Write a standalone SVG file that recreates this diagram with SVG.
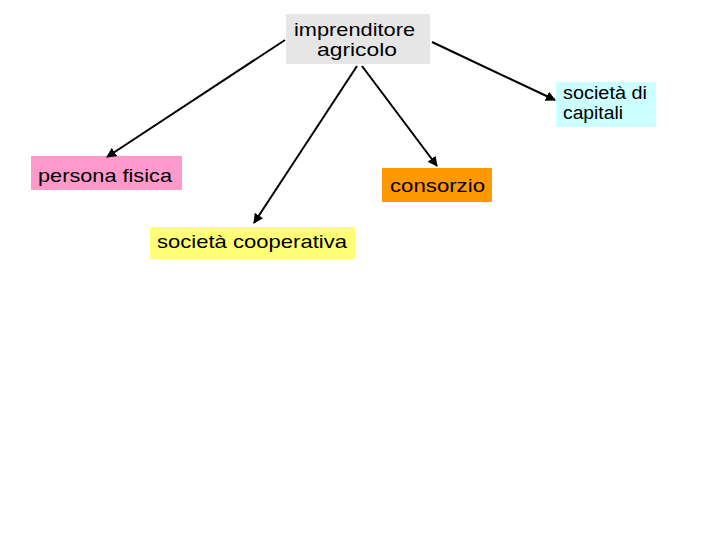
<svg xmlns="http://www.w3.org/2000/svg" width="720" height="540" viewBox="0 0 720 540">
<defs>
<style>
text{font-family:"Liberation Sans",Arial,sans-serif;font-size:19px;fill:#000}
.s{font-size:18px}
.c line{stroke:#000;stroke-width:2;marker-end:url(#ah)}
</style>
<marker id="ah" viewBox="0 0 10 10" refX="9" refY="5" markerWidth="5" markerHeight="5" orient="auto" markerUnits="strokeWidth">
<path d="M0,0L10,5L0,10z" fill="#000"/>
</marker>
</defs>
<rect width="720" height="540" fill="#fff"/>
<g id="imprenditore">
<rect x="286" y="14" width="144" height="50" fill="#e6e6e6"/>
<text x="294" y="36" textLength="121" lengthAdjust="spacingAndGlyphs">imprenditore</text>
<text x="317" y="56" textLength="80" lengthAdjust="spacingAndGlyphs">agricolo</text>
</g>
<g id="capitali">
<rect x="556" y="82" width="100" height="45" fill="#ccffff"/>
<text class="s" x="563" y="99" textLength="84" lengthAdjust="spacingAndGlyphs">società di</text>
<text class="s" x="563" y="119" textLength="60" lengthAdjust="spacingAndGlyphs">capitali</text>
</g>
<g id="persona">
<rect x="31" y="156" width="151" height="34" fill="#ff99cc"/>
<text x="38" y="182" textLength="134" lengthAdjust="spacingAndGlyphs">persona fisica</text>
</g>
<g id="cooperativa">
<rect x="150" y="227" width="205" height="32" fill="#ffff77"/>
<text x="157" y="248" textLength="190" lengthAdjust="spacingAndGlyphs">società cooperativa</text>
</g>
<g id="consorzio">
<rect x="382" y="168" width="110" height="34" fill="#ff9900"/>
<text x="390" y="192" textLength="95" lengthAdjust="spacingAndGlyphs">consorzio</text>
</g>
<g class="c" id="connectors">
<line x1="285" y1="40" x2="107" y2="157"/>
<line x1="357" y1="66" x2="254" y2="223"/>
<line x1="362" y1="66" x2="437" y2="166"/>
<line x1="432" y1="42" x2="555" y2="100"/>
</g>
</svg>
